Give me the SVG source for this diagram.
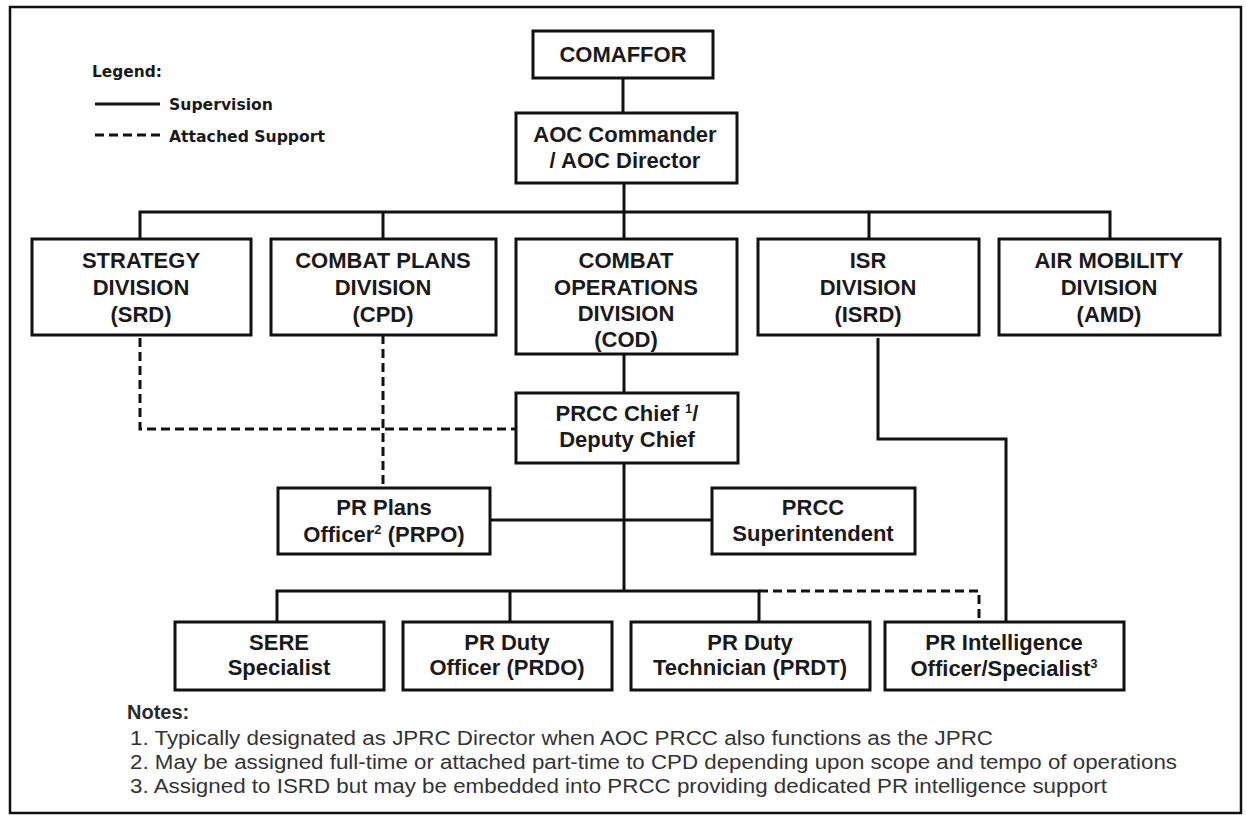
<svg xmlns="http://www.w3.org/2000/svg" width="1246" height="815" viewBox="0 0 1246 815">
<style>
.frame{fill:none;stroke:#111;stroke-width:2.5}
.box{fill:#fff;stroke:#111;stroke-width:3}
.ln{fill:none;stroke:#111;stroke-width:3}
.dash{fill:none;stroke:#111;stroke-width:3;stroke-dasharray:9 5}
.t{font-family:"Liberation Sans",Arial,sans-serif;font-weight:bold;font-size:22px;fill:#1a1a1a;text-anchor:middle}
.sup{font-size:13px}
.lg{font-family:"DejaVu Sans",Verdana,sans-serif;font-weight:bold;font-size:16px;fill:#1a1a1a}
.note{font-family:"Liberation Sans",Arial,sans-serif;font-size:20px;fill:#333}
.noteh{font-family:"Liberation Sans",Arial,sans-serif;font-weight:bold;font-size:20px;fill:#2a2a2a}
</style>
<rect class="frame" x="10" y="7" width="1231" height="806"/>

<g id="legend">
<text class="lg" x="92" y="77" textLength="70" lengthAdjust="spacingAndGlyphs">Legend:</text>
<line class="ln" x1="95" y1="104" x2="160" y2="104"/>
<text class="lg" x="169" y="110" textLength="104" lengthAdjust="spacingAndGlyphs">Supervision</text>
<line class="dash" x1="95" y1="135" x2="160" y2="135"/>
<text class="lg" x="169" y="142" textLength="156" lengthAdjust="spacingAndGlyphs">Attached Support</text>
</g>

<g id="connectors">
<path class="ln" d="M623,78 V113"/>
<path class="ln" d="M624,183 V239"/>
<path class="ln" d="M140,239 V212 H1110 V239"/>
<path class="ln" d="M383,212 V239"/>
<path class="ln" d="M869,212 V239"/>
<path class="ln" d="M624,354 V393"/>
<path class="dash" d="M140,338 V429 H516"/>
<path class="dash" d="M383,335 V488"/>
<path class="ln" d="M624,463 V591"/>
<path class="ln" d="M490,520 H712"/>
<path class="ln" d="M277,622 V591 H759 V622"/>
<path class="ln" d="M510,591 V622"/>
<path class="dash" d="M759,591 H979 V622"/>
<path class="ln" d="M878,338 V439 H1006 V622"/>
</g>

<g id="comaffor">
<rect class="box" x="533" y="31" width="180" height="47"/>
<text class="t" x="623" y="62">COMAFFOR</text>
</g>
<g id="aoc">
<rect class="box" x="516" y="113" width="221" height="70"/>
<text class="t" x="625" y="142">AOC Commander</text>
<text class="t" x="625" y="168">/ AOC Director</text>
</g>
<g id="srd">
<rect class="box" x="32" y="239" width="219" height="96"/>
<text class="t" x="141" y="268">STRATEGY</text>
<text class="t" x="141" y="295">DIVISION</text>
<text class="t" x="141" y="322">(SRD)</text>
</g>
<g id="cpd">
<rect class="box" x="271" y="239" width="225" height="96"/>
<text class="t" x="383" y="268">COMBAT PLANS</text>
<text class="t" x="383" y="295">DIVISION</text>
<text class="t" x="383" y="322">(CPD)</text>
</g>
<g id="cod">
<rect class="box" x="516" y="239" width="221" height="115"/>
<text class="t" x="626" y="268">COMBAT</text>
<text class="t" x="626" y="295">OPERATIONS</text>
<text class="t" x="626" y="321">DIVISION</text>
<text class="t" x="626" y="347">(COD)</text>
</g>
<g id="isrd">
<rect class="box" x="758" y="239" width="221" height="96"/>
<text class="t" x="868" y="268">ISR</text>
<text class="t" x="868" y="295">DIVISION</text>
<text class="t" x="868" y="322">(ISRD)</text>
</g>
<g id="amd">
<rect class="box" x="999" y="239" width="221" height="96"/>
<text class="t" x="1109" y="268">AIR MOBILITY</text>
<text class="t" x="1109" y="295">DIVISION</text>
<text class="t" x="1109" y="322">(AMD)</text>
</g>
<g id="prcc-chief">
<rect class="box" x="516" y="393" width="222" height="70"/>
<text class="t" x="627" y="421">PRCC Chief <tspan class="sup" dy="-8">1</tspan><tspan dy="8">/</tspan></text>
<text class="t" x="627" y="447">Deputy Chief</text>
</g>
<g id="prpo">
<rect class="box" x="278" y="488" width="212" height="66"/>
<text class="t" x="384" y="515">PR Plans</text>
<text class="t" x="384" y="542">Officer<tspan class="sup" dy="-8">2</tspan><tspan dy="8"> (PRPO)</tspan></text>
</g>
<g id="superintendent">
<rect class="box" x="712" y="488" width="203" height="66"/>
<text class="t" x="813" y="515">PRCC</text>
<text class="t" x="813" y="541">Superintendent</text>
</g>
<g id="sere">
<rect class="box" x="175" y="622" width="209" height="68"/>
<text class="t" x="279" y="650">SERE</text>
<text class="t" x="279" y="675">Specialist</text>
</g>
<g id="prdo">
<rect class="box" x="403" y="622" width="209" height="68"/>
<text class="t" x="507" y="650">PR Duty</text>
<text class="t" x="507" y="675">Officer (PRDO)</text>
</g>
<g id="prdt">
<rect class="box" x="631" y="622" width="239" height="68"/>
<text class="t" x="750" y="650">PR Duty</text>
<text class="t" x="750" y="675">Technician (PRDT)</text>
</g>
<g id="pr-intel">
<rect class="box" x="885" y="622" width="239" height="68"/>
<text class="t" x="1004" y="650">PR Intelligence</text>
<text class="t" x="1004" y="676">Officer/Specialist<tspan class="sup" dy="-8">3</tspan></text>
</g>

<g id="notes">
<text class="noteh" x="127" y="719">Notes:</text>
<text class="note" x="130" y="745" textLength="863" lengthAdjust="spacingAndGlyphs">1.  Typically designated as JPRC Director when AOC PRCC also functions as the JPRC</text>
<text class="note" x="130" y="769" textLength="1047" lengthAdjust="spacingAndGlyphs">2.  May be assigned full-time or attached part-time to CPD depending upon scope and tempo of operations</text>
<text class="note" x="130" y="793" textLength="977" lengthAdjust="spacingAndGlyphs">3.  Assigned to ISRD but may be embedded into PRCC providing dedicated PR intelligence support</text>
</g>
</svg>
